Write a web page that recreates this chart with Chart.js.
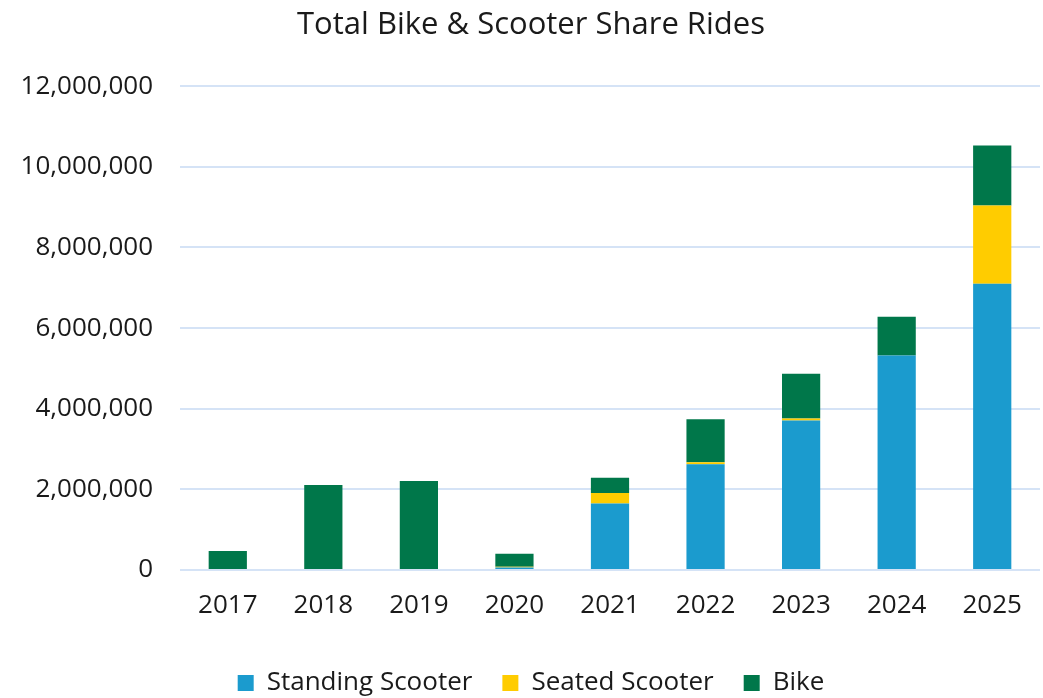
<!DOCTYPE html>
<html>
<head>
<meta charset="utf-8">
<script src="https://cdn.jsdelivr.net/npm/chart.js@4/dist/chart.umd.min.js"></script>
<style>
    html, body { margin: 0; padding: 0; background: #ffffff; overflow: hidden; }
    #wrap { width: 1043px; height: 698px; overflow: hidden; }
</style>
</head>
<body>
<div id="wrap"><canvas id="ridesChart" width="1043" height="706"></canvas></div>
<script>
// Chart data
const years = ['2017', '2018', '2019', '2020', '2021', '2022', '2023', '2024', '2025'];
const standingScooter = [0, 0, 0, 60000, 1650000, 2620000, 3710000, 5320000, 7100000];
const seatedScooter = [0, 0, 0, 20000, 260000, 50000, 50000, 0, 1940000];
const bike = [470000, 2110000, 2210000, 320000, 380000, 1070000, 1110000, 960000, 1490000];
const yTicks = [0, 2000000, 4000000, 6000000, 8000000, 10000000, 12000000];

const fontFamily = '"Open Sans", "Noto Sans", sans-serif';
const textColor = '#1a1a1a';

document.addEventListener('DOMContentLoaded', () => {
    const ctx = document.getElementById('ridesChart').getContext('2d');
    new Chart(ctx, {
        type: 'bar',
        data: {
            labels: years,
            datasets: [
                { label: 'Standing Scooter', data: standingScooter, backgroundColor: '#1b9bce' },
                { label: 'Seated Scooter', data: seatedScooter, backgroundColor: '#ffcc00' },
                { label: 'Bike', data: bike, backgroundColor: '#00774a' }
            ]
        },
        options: {
            responsive: false,
            animation: false,
            devicePixelRatio: 1,
            layout: { padding: { left: 22, right: 3, top: 4, bottom: 0 } },
            datasets: {
                bar: { categoryPercentage: 1.0, barPercentage: 0.4 }
            },
            scales: {
                x: {
                    stacked: true,
                    grid: { display: false, drawTicks: false },
                    border: { display: false },
                    ticks: { color: textColor, font: { family: fontFamily, size: 26 }, padding: 20 },
                    afterFit: axis => { axis.height = 70; }
                },
                y: {
                    stacked: true,
                    min: 0,
                    max: 12000000,
                    afterBuildTicks: axis => { axis.ticks = yTicks.map(v => ({ value: v })); },
                    grid: { color: '#d5e3f6', lineWidth: 2, drawTicks: false },
                    border: { display: false },
                    ticks: {
                        color: textColor,
                        font: { family: fontFamily, size: 26 },
                        padding: 27,
                        callback: v => v.toLocaleString('en-US')
                    },
                    afterFit: axis => { axis.width = 158; }
                }
            },
            plugins: {
                title: {
                    display: true,
                    text: 'Total Bike & Scooter Share Rides',
                    color: textColor,
                    font: { family: fontFamily, size: 31, weight: 'normal' },
                    padding: { top: 3, bottom: 42 }
                },
                legend: {
                    position: 'bottom',
                    labels: {
                        color: textColor,
                        font: { family: fontFamily, size: 26 },
                        boxWidth: 16,
                        boxHeight: 16,
                        padding: 30
                    }
                },
                tooltip: { enabled: false }
            }
        }
    });
});
</script>
</body>
</html>
